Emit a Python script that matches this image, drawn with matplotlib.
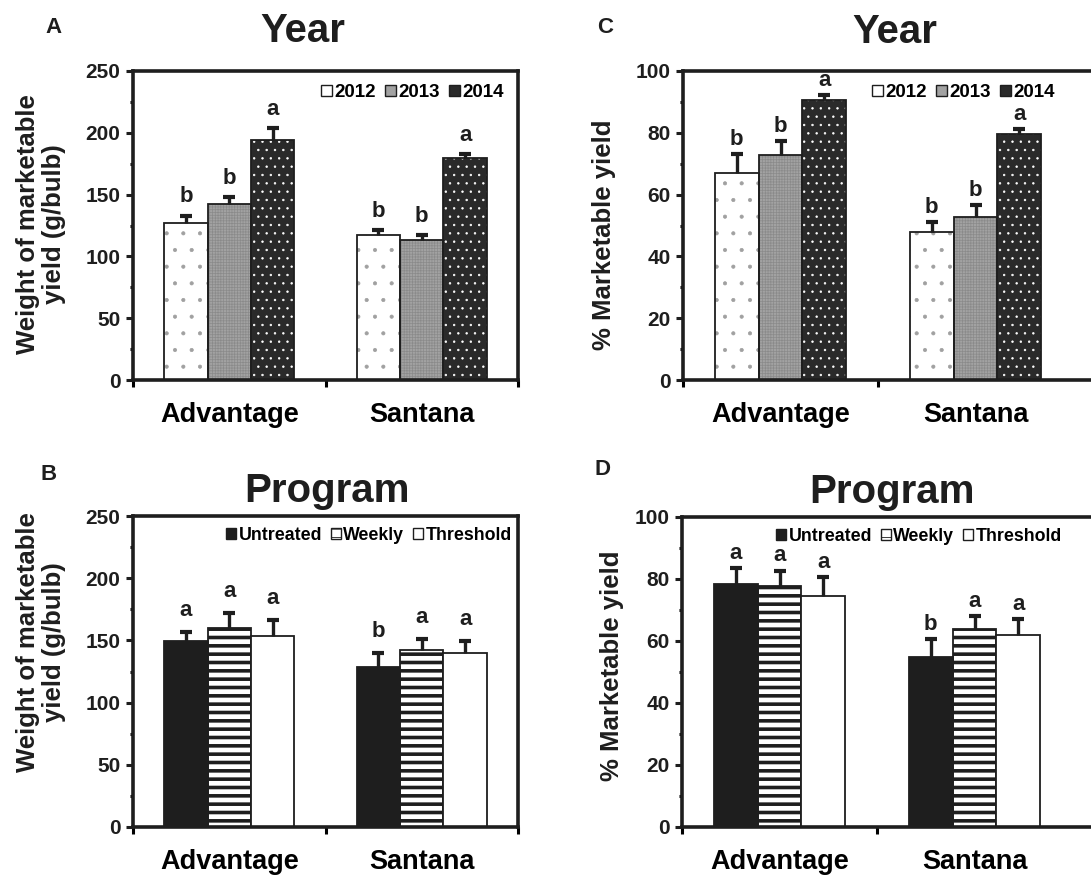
import matplotlib
matplotlib.use("Agg")
import matplotlib.pyplot as plt
from matplotlib.patches import Patch
import numpy as np

plt.rcParams["font.family"] = ["Liberation Sans", "DejaVu Sans"]
plt.rcParams["font.weight"] = "bold"
plt.rcParams["hatch.linewidth"] = 0.6

W, H = 1091, 875

cultivars = ["Advantage", "Santana"]
years = ["2012", "2013", "2014"]
programs = ["Untreated", "Weekly", "Threshold"]

# rows = series, columns = cultivars (Advantage, Santana)
weight_year = [[127, 117], [142, 113], [194, 180]]
weight_year_err = [[6, 4], [6, 4], [10, 2.5]]
weight_year_letters = [["b", "b"], ["b", "b"], ["a", "a"]]

pct_year = [[67, 47.8], [72.8, 52.7], [90.6, 79.6]]
pct_year_err = [[6, 3.3], [4.6, 3.9], [1.6, 1.6]]
pct_year_letters = [["b", "b"], ["b", "b"], ["a", "a"]]

weight_prog = [[149.5, 128.6], [160, 142.3], [153.5, 140]]
weight_prog_err = [[7.5, 11], [12, 9], [13, 9.5]]
weight_prog_letters = [["a", "b"], ["a", "a"], ["a", "a"]]

pct_prog = [[78.4, 54.8], [77.7, 63.9], [74.5, 62]]
pct_prog_err = [[5, 5.8], [5, 4.2], [6, 5]]
pct_prog_letters = [["a", "b"], ["a", "a"], ["a", "a"]]

# face, hatch, hatch colour
year_styles = [
    ("white", ".", "#a0a0a0"),
    ("#a2a2a2", "++++++", "#8a8a8a"),
    ("#2a2a2a", "..", "white"),
]
prog_styles = [
    ("#1e1e1e", None, None),
    ("white", "--", "#1e1e1e"),
    ("white", None, None),
]

INK = "#1e1e1e"


def px(x, y):
    return x / W, 1 - y / H


fig = plt.figure(figsize=(W / 100, H / 100), dpi=100)


def draw_panel(box, series, errs, letters, styles, names, ymax, ystep,
               ylabel, ylab_xy, title, title_xy, tag, tag_xy, letter_off,
               leg_xy, leg_fs, xmax, xmajor, stripe_lw=None):
    left, top, right, bottom = box
    ax = fig.add_axes([left / W, 1 - bottom / H, (right - left) / W, (bottom - top) / H])
    x = np.arange(len(cultivars)) + 0.5
    width = 0.225
    handles = []
    for i, vals in enumerate(series):
        face, hatch, hcol = styles[i]
        pos = x + (i - 1) * width
        if hatch:
            with plt.rc_context({"hatch.linewidth": stripe_lw or 0.5}):
                b = ax.bar(pos, vals, width, color=face, hatch=hatch,
                           edgecolor=hcol, linewidth=0, zorder=2)
            if stripe_lw:
                for p in b:
                    if hasattr(p, "set_hatch_linewidth"):
                        p.set_hatch_linewidth(stripe_lw)
        ax.bar(pos, vals, width, color=face if not hatch else "none",
               edgecolor=INK, linewidth=1.3, zorder=3)
        _, caps, _ = ax.errorbar(pos, vals, yerr=[np.zeros(len(vals)), errs[i]],
                                 fmt="none", ecolor=INK, elinewidth=2.4,
                                 capsize=4.5, capthick=3, zorder=4)
        # only the upper cap, like the original
        if len(caps) == 2:
            caps[0].remove()
        for xp, v, e, lt in zip(pos, vals, errs[i], letters[i]):
            ax.annotate(lt, (xp, v + e), xytext=(0, letter_off),
                        textcoords="offset points", ha="center", va="bottom",
                        fontsize=16, fontweight="bold", color=INK)
        handles.append(Patch(facecolor=face, edgecolor=INK, linewidth=1,
                             hatch=hatch if hatch == "--" else None))

    ax.set_xlim(0, xmax)
    ax.set_ylim(0, ymax)
    ax.set_yticks(np.arange(0, ymax + 1, ystep))
    ax.set_yticks(np.arange(ystep / 2, ymax, ystep), minor=True)
    ax.tick_params(axis="y", which="major", direction="out", length=5, width=2.2,
                   labelsize=15, pad=4, colors=INK)
    ax.tick_params(axis="y", which="minor", direction="out", length=2.5, width=2.2)
    ax.set_xticks(xmajor)
    ax.set_xticklabels([])
    ax.set_xticks(x, minor=True)
    ax.set_xticklabels(cultivars, minor=True)
    ax.tick_params(axis="x", which="major", direction="out", length=5, width=2.2)
    ax.tick_params(axis="x", which="minor", length=0, labelsize=19.5, pad=16)
    for s in ax.spines.values():
        s.set_linewidth(2.6)
        s.set_color(INK)
        s.set_zorder(5)

    leg = ax.legend(handles, names, loc="upper right", ncol=3, frameon=False,
                    fontsize=leg_fs, handlelength=0.55, handleheight=0.55,
                    handletextpad=0.15, columnspacing=0.5, borderpad=0,
                    borderaxespad=0, bbox_to_anchor=px(*leg_xy),
                    bbox_transform=fig.transFigure)
    for t in leg.get_texts():
        t.set_fontweight("bold")

    fig.text(*px(*ylab_xy), ylabel, rotation=90, ha="center", va="center",
             multialignment="center", fontsize=18.5, fontweight="bold",
             linespacing=1.15, color=INK)
    fig.text(*px(*title_xy), title, ha="center", va="baseline", fontsize=29,
             fontweight="bold", color=INK)
    fig.text(*px(*tag_xy), tag, ha="left", va="baseline", fontsize=16,
             fontweight="bold", color=INK)
    return ax


draw_panel((133, 71, 518, 380), weight_year, weight_year_err, weight_year_letters,
           year_styles, years, 250, 50,
           "Weight of marketable\nyield (g/bulb)", (41, 224),
           "Year", (303, 42), "A", (45, 33), 6, (504, 84), 13.5, 2, [0, 1, 2])

draw_panel((683, 71, 1100, 380), pct_year, pct_year_err, pct_year_letters,
           year_styles, years, 100, 20,
           "% Marketable yield", (604, 235),
           "Year", (895, 43), "C", (597, 33), 3, (1055, 84), 13.5,
           417 / 195, [0, 1])

draw_panel((133, 516, 518, 827), weight_prog, weight_prog_err, weight_prog_letters,
           prog_styles, programs, 250, 50,
           "Weight of marketable\nyield (g/bulb)", (41, 642),
           "Program", (327, 502), "B", (40, 480), 8, (512, 527), 12.8, 2,
           [0, 1, 2], stripe_lw=2.6)

draw_panel((682, 517, 1100, 827), pct_prog, pct_prog_err, pct_prog_letters,
           prog_styles, programs, 100, 20,
           "% Marketable yield", (612, 666),
           "Program", (892, 503), "D", (595, 475), 3, (1062, 528), 12.8,
           418 / 195, [0, 1], stripe_lw=2.6)

fig.savefig("out.png", dpi=100, facecolor="white")
